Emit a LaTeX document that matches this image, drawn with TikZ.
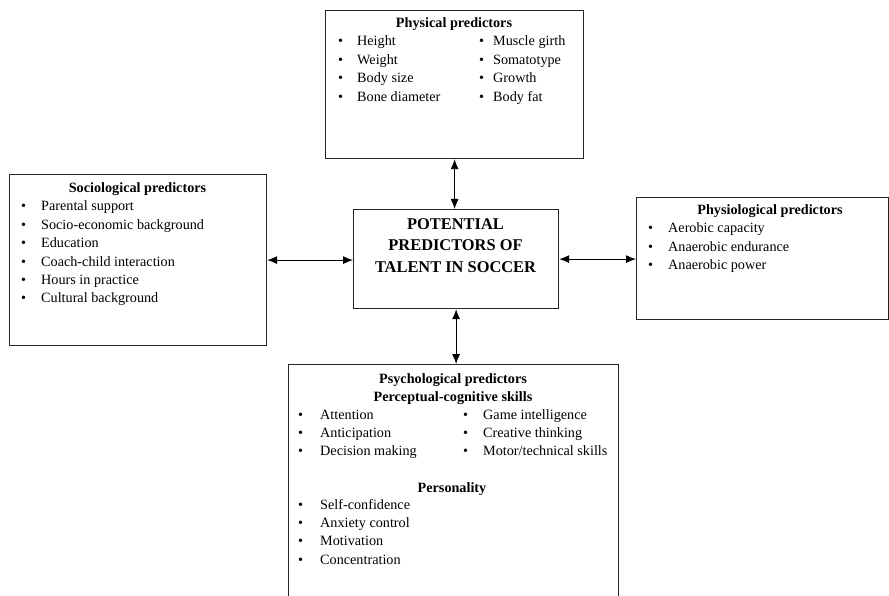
\documentclass[tikz,border=0pt]{standalone}
\usepackage{fontspec}
\setmainfont{Liberation Serif}
\usetikzlibrary{arrows.meta}
\setlength{\tabcolsep}{0pt}

\begin{document}
\begin{tikzpicture}[x=1pt,y=-1pt,
    frame/.style={draw=black!85, line width=1.2pt, anchor=north west, inner sep=0pt},
    head/.style={anchor=base, inner sep=0pt, font=\fontsize{14.2}{18.4}\selectfont\bfseries},
    items/.style={anchor=base west, inner sep=0pt, font=\fontsize{14.2}{18.4}\selectfont},
    link/.style={{Latex[length=10pt,width=8pt]}-{Latex[length=10pt,width=8pt]}, line width=0.9pt}]
      \useasboundingbox (0,0) rectangle (889,596);
      \clip (0,0) rectangle (889,596);

      % frames
      \node[frame, minimum width=258pt, minimum height=148pt] (phys) at (325,10) {};
      \node[frame, minimum width=257pt, minimum height=171pt] (soc) at (9,174) {};
      \node[frame, minimum width=205pt, minimum height=99pt] (core) at (353,209) {};
      \node[frame, minimum width=252pt, minimum height=122pt] (physio) at (636,197) {};
      \node[frame, minimum width=330pt, minimum height=260pt] (psych) at (288,364) {};

      \node[anchor=center, align=center, inner sep=0pt, font=\fontsize{16.4}{21.5}\selectfont\bfseries]
        (coretext) at (455.5,245.5) {POTENTIAL\\PREDICTORS OF\\TALENT IN SOCCER};

      \node[head] (physhead) at (454,28) {Physical predictors};
      \node[items] (physlist) at (338,46) {\begin{tabular}[t]{@{}p{19pt}p{122pt}p{14pt}l@{}}
        \textbullet & Height & \textbullet & Muscle girth\\
        \textbullet & Weight & \textbullet & Somatotype\\
        \textbullet & Body size & \textbullet & Growth\\
        \textbullet & Bone diameter & \textbullet & Body fat
      \end{tabular}};

      \node[head] (sochead) at (137.5,193) {Sociological predictors};
      \node[items] (soclist) at (21,211) {\begin{tabular}[t]{@{}p{20pt}l@{}}
        \textbullet & Parental support\\
        \textbullet & Socio-economic background\\
        \textbullet & Education\\
        \textbullet & Coach-child interaction\\
        \textbullet & Hours in practice\\
        \textbullet & Cultural background
      \end{tabular}};

      \node[head] (physiohead) at (770,215) {Physiological predictors};
      \node[items] (physiolist) at (648,233) {\begin{tabular}[t]{@{}p{20pt}l@{}}
        \textbullet & Aerobic capacity\\
        \textbullet & Anaerobic endurance\\
        \textbullet & Anaerobic power
      \end{tabular}};

      \node[head] (psychhead) at (453,383) {Psychological predictors};
      \node[head] (skillhead) at (453,401) {Perceptual-cognitive skills};
      \node[items] (skilllist) at (298,419) {\begin{tabular}[t]{@{}p{22pt}p{143pt}p{20pt}l@{}}
        \textbullet & Attention & \textbullet & Game intelligence\\
        \textbullet & Anticipation & \textbullet & Creative thinking\\
        \textbullet & Decision making & \textbullet & Motor/technical skills
      \end{tabular}};
      \node[head] (pershead) at (452,492) {Personality};
      \node[items] (perslist) at (298,509) {\begin{tabular}[t]{@{}p{22pt}l@{}}
        \textbullet & Self-confidence\\
        \textbullet & Anxiety control\\
        \textbullet & Motivation\\
        \textbullet & Concentration
      \end{tabular}};

      \draw[link] (phys.south) -- (phys.south |- core.north);
      \draw[link] (soc.east) -- (soc.east -| core.west);
      \draw[link] (core.east) -- (core.east -| physio.west);
      \draw[link] (core.south) -- (core.south |- psych.north);
    \end{tikzpicture}
\end{document}
